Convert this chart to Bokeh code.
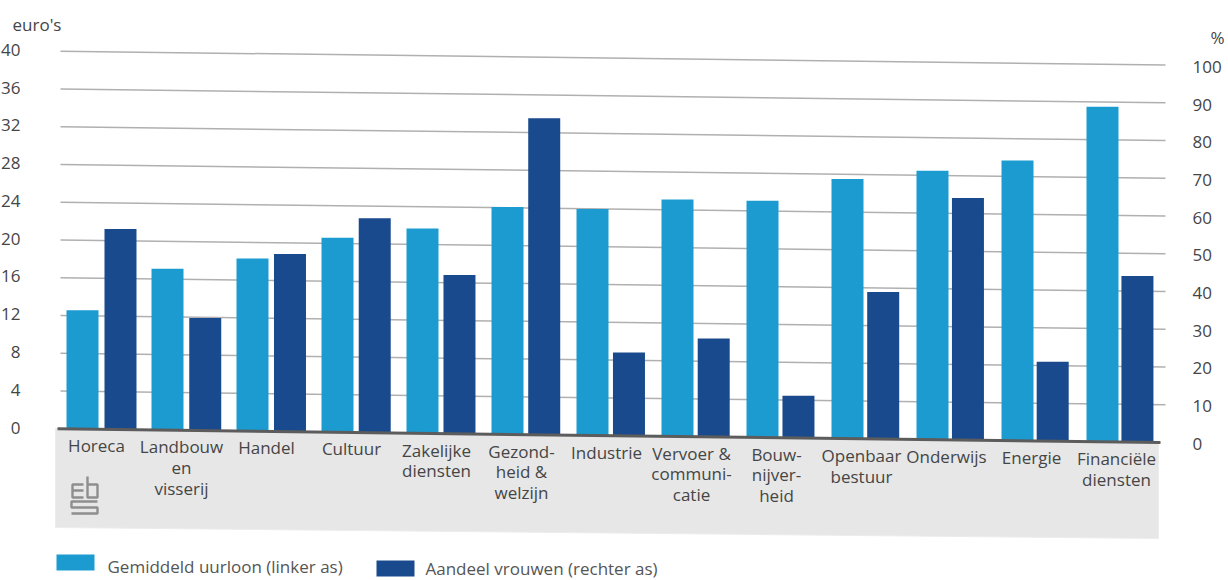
from bokeh.plotting import figure
from bokeh.models import Range1d, LinearAxis, FixedTicker
from bokeh.core.properties import value
from bokeh.embed import file_html
from bokeh.resources import INLINE

categories = ["Horeca", "Landbouw\nen\nvisserij", "Handel", "Cultuur", "Zakelijke\ndiensten",
              "Gezond-\nheid &\nwelzijn", "Industrie", "Vervoer &\ncommuni-\ncatie",
              "Bouw-\nnijver-\nheid", "Openbaar\nbestuur", "Onderwijs", "Energie",
              "Financiële\ndiensten"]
uurloon = [12.6, 17.1, 18.3, 20.6, 21.7, 24.1, 24.0, 25.1, 25.1, 27.5, 28.5, 29.7, 35.5]
vrouwen = [53.2, 29.9, 47.1, 56.9, 42.1, 84.0, 22.1, 26.1, 11.2, 39.0, 64.2, 21.1, 44.1]
left_ticks = [0, 4, 8, 12, 16, 20, 24, 28, 32, 36, 40]
right_ticks = [0, 10, 20, 30, 40, 50, 60, 70, 80, 90, 100]

W, H = 1228, 580
LIGHT, DARK, TXT, FONT = "#1b9bcf", "#1a4a8e", "#454545", "Open Sans"
EUR, PCT, STEP, X0 = 9.44, 3.77, 85.0, 82.0      # px per unit, px per category


def ux(px):  # page x -> category units
    return (px - X0) / STEP


def ly(py):  # page y -> left axis units
    return (427 - py) / EUR


def ry(py):  # page y -> right axis units
    return (443.3 - py) / PCT


def zero(px):  # the scan is slightly rotated: baseline drifts downward to the right
    return 428.3 + 0.0125 * (px - 60)


def px_of(u):
    return X0 + STEP * u


p = figure(width=W, height=H, output_backend="svg", toolbar_location=None,
           x_range=Range1d(ux(0), ux(W)), y_range=Range1d(ly(H), ly(0)),
           min_border=0, outline_line_color=None, background_fill_color="white")
p.extra_y_ranges = {"pct": Range1d(ry(H), ry(0))}
p.xaxis.visible = False
p.yaxis.visible = False
p.grid.visible = False

# grey label panel
p.patch([ux(55), ux(1158), ux(1158), ux(55)],
        [ly(zero(55)), ly(zero(1158)), ly(538), ly(527)],
        fill_color="#e7e7e7", line_color="#ececec", line_width=1)

# tilted gridlines
p.multi_line([[ux(60), ux(1165)] for _ in left_ticks[1:]],
             [[ly(zero(60)) + v, ly(zero(1165)) + v] for v in left_ticks[1:]],
             line_color="#b0b0b0", line_width=1.5)

# bars
n = range(len(categories))
xl = [float(i) for i in n]
xd = [i + 0.447 - 0.003 * i for i in n]
bl = [ly(zero(px_of(x))) for x in xl]
br = [ry(zero(px_of(x))) for x in xd]
p.vbar(x=xl, width=32 / STEP, bottom=bl, top=[b + v for b, v in zip(bl, uurloon)],
       fill_color=LIGHT, line_color=None)
p.vbar(x=xd, width=32 / STEP, bottom=br, top=[b + v for b, v in zip(br, vrouwen)],
       fill_color=DARK, line_color=None, y_range_name="pct")

# baseline
p.line([ux(57), ux(1160)], [ly(zero(57)), ly(zero(1160))], line_color="#5c5c5c", line_width=3)

# category labels
lx = [i + 0.165 for i in n]
p.text(x=lx, y=[ly(zero(px_of(x)) + 5) for x in lx], text=categories, text_align="center",
       text_baseline="top", text_font=value(FONT), text_font_size="17px", text_color=TXT,
       text_line_height=0.9)

# axes, fixed inside the frame
la = LinearAxis(fixed_location=ux(20), ticker=FixedTicker(ticks=left_ticks))
ra = LinearAxis(fixed_location=ux(1192), y_range_name="pct", ticker=FixedTicker(ticks=right_ticks))
for a in (la, ra):
    a.axis_line_color = None
    a.major_tick_line_color = None
    a.minor_tick_line_color = None
    a.major_label_standoff = 0
    a.major_tick_out = 0
    a.major_tick_in = 0
    a.major_label_text_font = FONT
    a.major_label_text_font_size = "17px"
    a.major_label_text_color = TXT
la.major_label_text_align = "center"
p.add_layout(la, "left")
p.add_layout(ra, "right")

# axis titles
p.text(x=[ux(12)], y=[ly(24)], text=["euro's"], text_baseline="middle",
       text_font=value(FONT), text_font_size="17px", text_color=TXT)
p.text(x=[ux(1210)], y=[ly(37)], text=["%"], text_baseline="middle",
       text_font=value(FONT), text_font_size="17px", text_color=TXT)

# CBS logo
logo_x = [[83, 72, 72, 83], [72, 83], [87, 87, 97, 97, 87], [97, 71, 71, 97, 97, 71]]
logo_y = [[484, 484, 497, 497], [490, 490], [476, 497, 497, 484, 484], [501, 501, 507, 507, 513, 513]]
p.multi_line([[ux(v) for v in xs] for xs in logo_x], [[ly(v) for v in ys] for ys in logo_y],
             line_color="#8e8e8e", line_width=2.4)

# legend
p.quad(left=[ux(56), ux(376)], right=[ux(94), ux(414)], top=[ly(554), ly(560)], bottom=[ly(570), ly(576)],
       fill_color=[LIGHT, DARK], line_color=None)
p.text(x=[ux(107), ux(425)], y=[ly(566), ly(568)],
       text=["Gemiddeld uurloon (linker as)", "Aandeel vrouwen (rechter as)"],
       text_baseline="middle", text_font=value(FONT), text_font_size="17px", text_color="#555555")

open("out.html", "w").write(file_html(p, INLINE))
